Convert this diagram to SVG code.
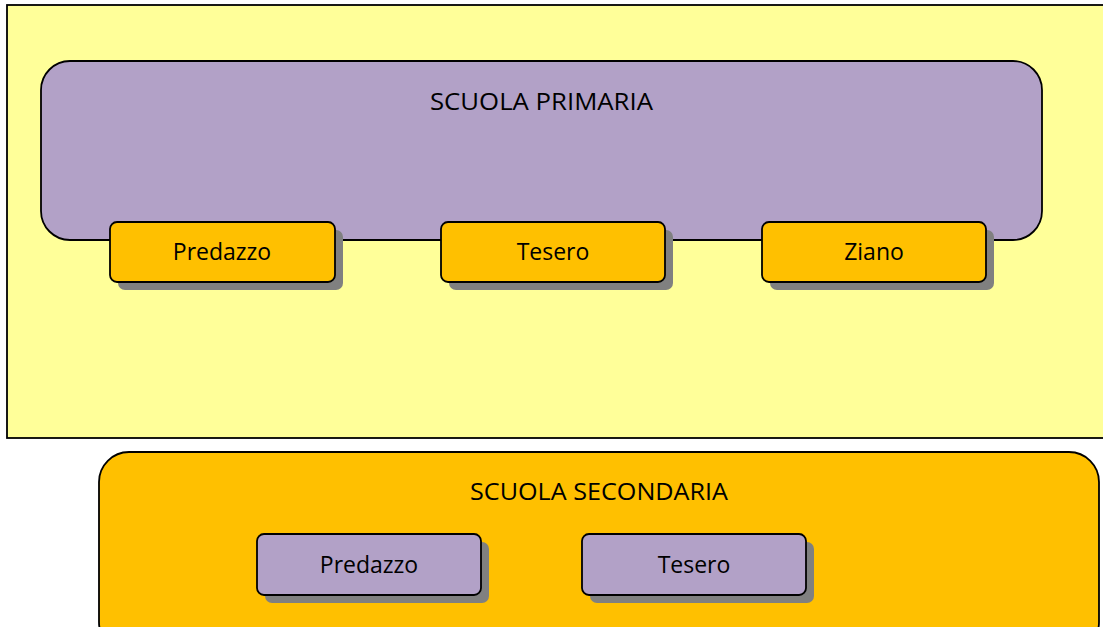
<svg xmlns="http://www.w3.org/2000/svg" width="1103" height="627" viewBox="0 0 1103 627">
<style>
text{font-family:"Open Sans","Liberation Sans",sans-serif;font-size:23px;fill:#000;text-anchor:middle}
.sh{fill:#808080}
.o{fill:#FFC000;stroke:#000;stroke-width:1.8}
.p{fill:#B2A1C7;stroke:#000;stroke-width:1.8}
</style>
<rect x="0" y="0" width="1103" height="627" fill="#fff"/>
<g id="bg">
<rect x="7" y="5" width="1100" height="433" fill="#FFFF99" stroke="#000" stroke-width="1.8"/>
</g>
<g id="primaria">
<rect class="p" x="41" y="61" width="1001" height="179" rx="29"/>
<text x="541.5" y="110" textLength="223" lengthAdjust="spacingAndGlyphs">SCUOLA PRIMARIA</text>
</g>
<g id="p-predazzo">
<rect class="sh" x="118" y="230" width="225" height="60" rx="7"/>
<rect class="o" x="110" y="222" width="225" height="60" rx="7"/>
<text x="222" y="260">Predazzo</text>
</g>
<g id="p-tesero">
<rect class="sh" x="449" y="230" width="224" height="60" rx="7"/>
<rect class="o" x="441" y="222" width="224" height="60" rx="7"/>
<text x="553" y="260">Tesero</text>
</g>
<g id="p-ziano">
<rect class="sh" x="770" y="230" width="224" height="60" rx="7"/>
<rect class="o" x="762" y="222" width="224" height="60" rx="7"/>
<text x="874" y="260">Ziano</text>
</g>
<g id="secondaria">
<rect class="o" x="99" y="452" width="1000" height="200" rx="30"/>
<text x="599" y="500" textLength="258" lengthAdjust="spacingAndGlyphs">SCUOLA SECONDARIA</text>
</g>
<g id="s-predazzo">
<rect class="sh" x="265" y="542" width="224" height="61" rx="7"/>
<rect class="p" x="257" y="534" width="224" height="61" rx="7"/>
<text x="369" y="573">Predazzo</text>
</g>
<g id="s-tesero">
<rect class="sh" x="590" y="542" width="224" height="61" rx="7"/>
<rect class="p" x="582" y="534" width="224" height="61" rx="7"/>
<text x="694" y="573">Tesero</text>
</g>
<g id="connectors"></g>
</svg>
